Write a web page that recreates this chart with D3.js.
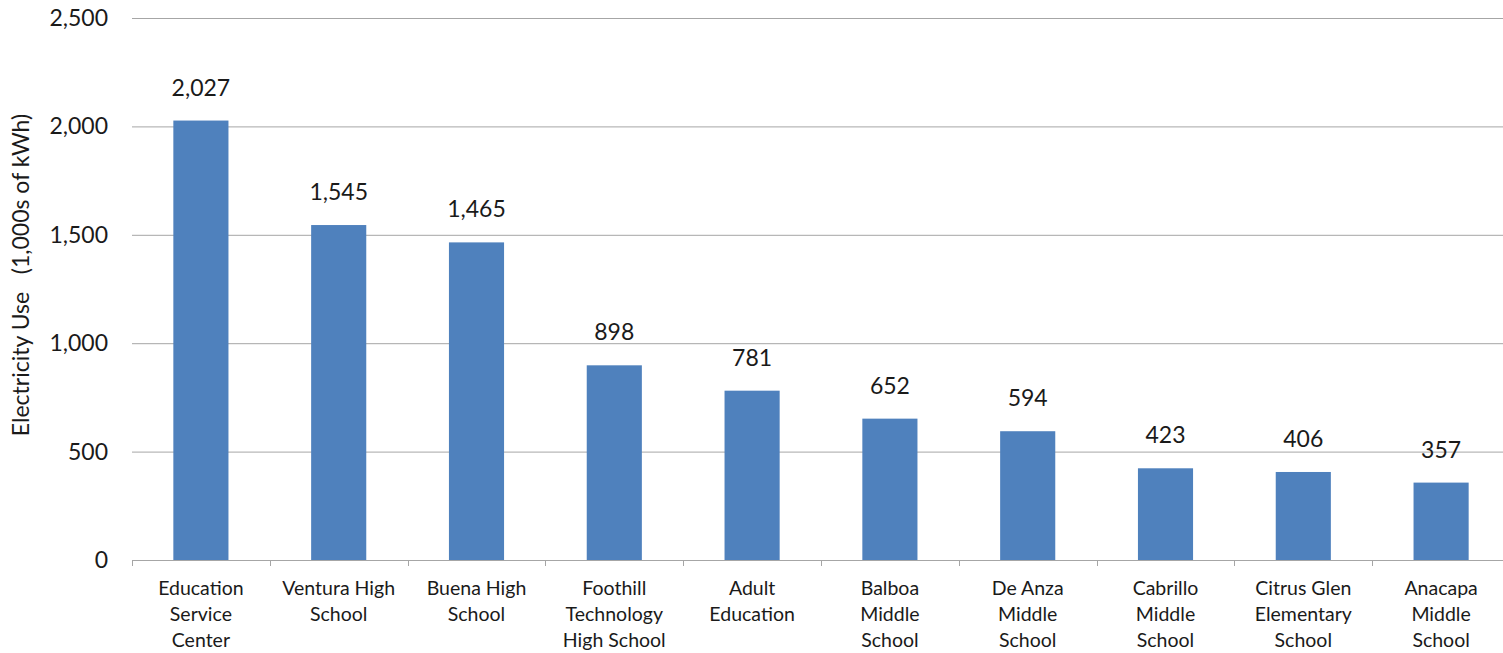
<!DOCTYPE html>
<html><head><meta charset="utf-8">
<script src="https://cdn.jsdelivr.net/npm/d3@7"></script>
<style>body{margin:0;background:#fff}svg{display:block}text{font-family:Lato,"Open Sans",sans-serif;fill:#1a1a1a}</style>
</head><body><svg id="c" width="1503" height="653"></svg>
<script>
const categories = [["Education","Service","Center"],["Ventura High","School"],["Buena High","School"],["Foothill","Technology","High School"],["Adult","Education"],["Balboa","Middle","School"],["De Anza","Middle","School"],["Cabrillo","Middle","School"],["Citrus Glen","Elementary","School"],["Anacapa","Middle","School"]];
const values = [2027,1545,1465,898,781,652,594,423,406,357];
const yTicks = [0,500,1000,1500,2000,2500];
const yTitle = "Electricity Use   (1,000s of kWh)";

const svg = d3.select("#c");
const m = {l:132, r:1510, gridR:1503, t:18, b:560};
const x = d3.scaleBand().domain(d3.range(values.length)).range([m.l, m.r]).paddingInner(0.6).paddingOuter(0.3);
const y = d3.scaleLinear().domain([0,2500]).range([m.b, m.t]);
const fmt = d3.format(",");

// gridlines
svg.append("g").selectAll("line").data(yTicks.filter(d=>d>0)).join("line")
  .attr("x1", m.l).attr("x2", m.gridR).attr("y1", d=>y(d)+0.5).attr("y2", d=>y(d)+0.5)
  .attr("stroke","#a6a6a6").attr("stroke-width",1);
// y labels
svg.append("g").selectAll("text").data(yTicks).join("text")
  .attr("x",108).attr("y",d=>y(d)).attr("dy","0.35em").attr("text-anchor","end")
  .style("font-size","23px").text(d=>fmt(d));
// bars
svg.append("g").selectAll("rect").data(values).join("rect")
  .attr("x",(d,i)=>x(i)).attr("width",x.bandwidth())
  .attr("y",d=>y(d)).attr("height",d=>y(0)-y(d)).attr("fill","#4f81bd");
// value labels
svg.append("g").selectAll("text").data(values).join("text")
  .attr("x",(d,i)=>x(i)+x.bandwidth()/2).attr("y",d=>y(d)-25)
  .attr("text-anchor","middle").style("font-size","23px").text(d=>fmt(d));
// x axis
svg.append("line").attr("x1",m.l).attr("x2",m.gridR).attr("y1",m.b+0.5).attr("y2",m.b+0.5).attr("stroke","#a6a6a6");
svg.append("g").selectAll("line").data(d3.range(values.length)).join("line")
  .attr("x1",i=>Math.round(x(i)-x.step()*x.paddingOuter())+0.5).attr("x2",i=>Math.round(x(i)-x.step()*x.paddingOuter())+0.5)
  .attr("y1",m.b).attr("y2",m.b+6).attr("stroke","#a6a6a6");
// category labels
const cl = svg.append("g").selectAll("text").data(categories).join("text")
  .attr("text-anchor","middle").style("font-size","19.5px");
cl.each(function(lines,i){
  const t=d3.select(this);
  lines.forEach((s,k)=>t.append("tspan").attr("x",x(i)+x.bandwidth()/2).attr("y",595+k*26).text(s));
});
// y title
svg.append("text").attr("transform","translate(29,275) rotate(-90)").attr("text-anchor","middle")
  .style("font-size","23px").attr("xml:space","preserve").style("white-space","pre").text(yTitle);
</script></body></html>
